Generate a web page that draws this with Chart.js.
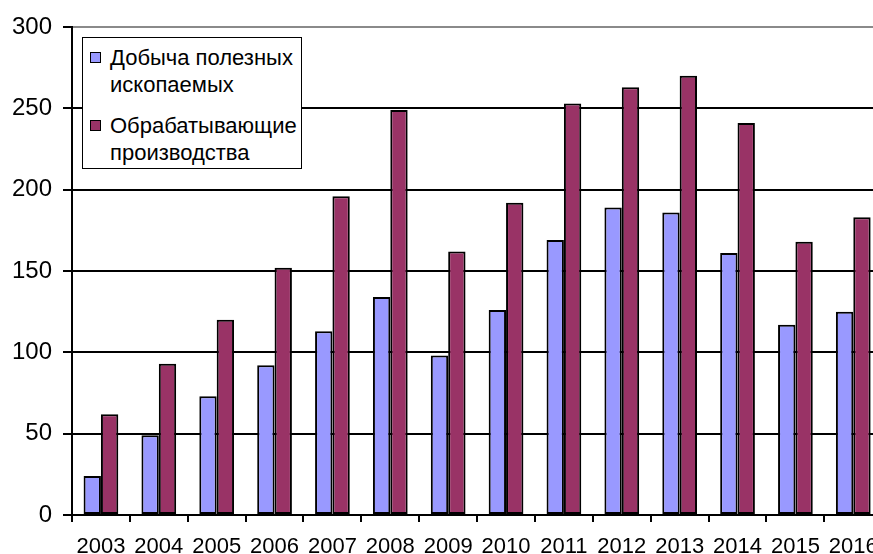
<!DOCTYPE html>
<html>
<head>
<meta charset="utf-8">
<script src="https://cdn.jsdelivr.net/npm/chart.js@4/dist/chart.umd.min.js"></script>
<style>
  html, body { margin: 0; padding: 0; background: #fff; overflow: hidden; width: 873px; height: 554px; }
  #wrap { position: absolute; left: 0; top: 0; width: 890px; height: 554px; }
  #legend { position: absolute; left: 82px; top: 37px; width: 218px; height: 130px; border: 1px solid #000; background: #fff;
    font-family: "Liberation Sans", Arial, sans-serif; font-size: 22px; color: #000; }
  .item { position: absolute; left: 0; }
  .mk { position: absolute; left: 7px; width: 9px; height: 9px; border: 1.5px solid #000; }
  .tx { position: absolute; left: 27px; line-height: 27px; white-space: nowrap; }
</style>
</head>
<body>
<div id="wrap"><canvas id="c" width="890" height="554"></canvas></div>
<div id="legend"></div>
<script>
const categories = ["2003","2004","2005","2006","2007","2008","2009","2010","2011","2012","2013","2014","2015","2016"];
const seriesNames = [["Добыча полезных", "ископаемых"], ["Обрабатывающие", "производства"]];
const mining = [24, 49, 73, 92, 113, 134, 98, 126, 169, 189, 186, 161, 117, 125];
const manufacturing = [62, 93, 120, 152, 196, 249, 162, 192, 253, 263, 270, 241, 168, 183];
const yTicks = [0, 50, 100, 150, 200, 250, 300];
const colors = ["#9999FF", "#993366"];

// HTML legend
const lg = document.getElementById('legend');
const tops = [6, 74];
seriesNames.forEach((lines, i) => {
  const it = document.createElement('div');
  it.className = 'item';
  it.style.top = tops[i] + 'px';
  const mk = document.createElement('div');
  mk.className = 'mk';
  mk.style.top = '8px';
  mk.style.background = colors[i];
  const tx = document.createElement('div');
  tx.className = 'tx';
  tx.innerHTML = lines.join('<br>');
  it.appendChild(mk); it.appendChild(tx);
  lg.appendChild(it);
});

new Chart(document.getElementById('c'), {
  type: 'bar',
  data: {
    labels: categories,
    datasets: [
      { label: seriesNames[0].join(' '), data: mining, backgroundColor: colors[0], borderColor: '#000', borderWidth: 2, borderSkipped: false },
      { label: seriesNames[1].join(' '), data: manufacturing, backgroundColor: colors[1], borderColor: '#000', borderWidth: 2, borderSkipped: false }
    ]
  },
  options: {
    responsive: false,
    animation: false,
    layout: { padding: { top: 27, right: 7, left: 0, bottom: 0 } },
    plugins: { legend: { display: false }, tooltip: { enabled: false } },
    datasets: { bar: { categoryPercentage: 0.6, barPercentage: 1.0 } },
    scales: {
      x: {
        grid: { display: true, drawOnChartArea: false, drawTicks: true, tickLength: 7, color: '#000', lineWidth: 2, offset: true },
        border: { display: true, color: '#000', width: 2 },
        ticks: { color: '#000', font: { family: '"Liberation Sans", Arial, sans-serif', size: 22 }, padding: 12, maxRotation: 0, autoSkip: false },
        afterFit: (s) => { s.height = 39; }
      },
      y: {
        min: 0, max: 300,
        afterBuildTicks: (s) => { s.ticks = yTicks.map(v => ({ value: v })); },
        grid: { color: (ctx) => (ctx.tick && ctx.tick.value === 300 ? '#8a8a8a' : '#000'), tickColor: '#000', lineWidth: 2, tickLength: 9 },
        border: { display: true, color: '#000', width: 2 },
        ticks: { color: '#000', font: { family: '"Liberation Sans", Arial, sans-serif', size: 24 }, padding: 11 },
        afterFit: (s) => { s.width = 72; }
      }
    }
  }
});
</script>
</body>
</html>
